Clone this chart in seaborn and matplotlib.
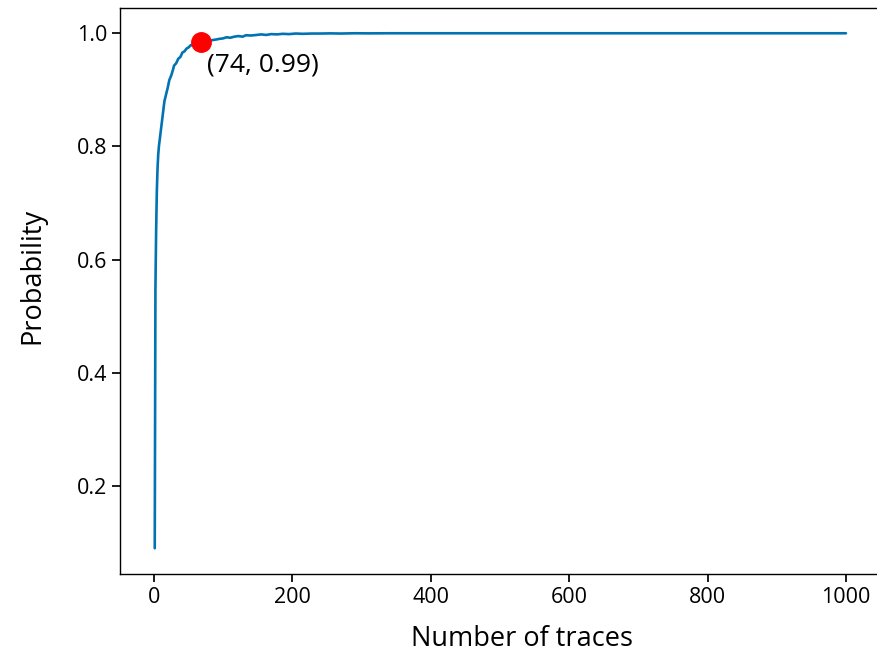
import matplotlib
matplotlib.use("Agg")
import matplotlib.pyplot as plt
import pandas as pd
import seaborn as sns

# traces vs probability
n_traces = [1, 2, 3, 4, 5, 6, 7, 8, 10, 12, 15, 18, 20, 22, 25, 27, 29, 32, 35, 38, 41,
            44, 47, 50, 53, 57, 60, 64, 68, 74, 80, 85, 90, 94, 100, 105, 110, 116,
            122, 128, 133, 140, 148, 155, 162, 169, 178, 186, 195, 205, 215, 228, 240,
            255, 270, 290, 310, 340, 380, 450, 550, 700, 850, 1000]
probability = [0.09, 0.55, 0.65, 0.72, 0.76, 0.785, 0.80, 0.81, 0.83, 0.85, 0.88, 0.895,
               0.905, 0.917, 0.926, 0.934, 0.943, 0.947, 0.955, 0.958, 0.966, 0.968,
               0.973, 0.975, 0.979, 0.978, 0.981, 0.982, 0.984, 0.986, 0.987, 0.988,
               0.989, 0.990, 0.991, 0.993, 0.992, 0.994, 0.995, 0.994, 0.9965, 0.996,
               0.997, 0.998, 0.997, 0.9985, 0.998, 0.999, 0.9985, 0.9995, 0.999, 0.9995,
               0.9995, 0.9998, 0.9995, 1.0, 0.9998, 1.0, 1.0, 1.0, 1.0, 1.0, 1.0, 1.0]
mark_x, mark_y = 68, 0.984
mark_label = "(74, 0.99)"

sns.set_theme(style="ticks")
plt.rcParams["font.family"] = ["Open Sans", "DejaVu Sans"]

df = pd.DataFrame({"traces": n_traces, "prob": probability})

fig = plt.figure(figsize=(8.77, 6.53), dpi=100)
ax = fig.add_axes([0.137, 0.121, 0.867, 0.8675])
sns.lineplot(data=df, x="traces", y="prob", ax=ax,
             color=sns.color_palette("colorblind")[0], linewidth=1.9)
ax.plot([mark_x], [mark_y], "o", color="red", markersize=14, zorder=5)
ax.annotate(mark_label, (mark_x, mark_y), xytext=(4, -7), textcoords="offset points",
            ha="left", va="top", fontsize=19, color="black")

ax.set_xlim(-49, 1050)
ax.set_ylim(0.0445, 1.0455)
ax.set_xticks([0, 200, 400, 600, 800, 1000])
ax.set_yticks([0.2, 0.4, 0.6, 0.8, 1.0])
ax.tick_params(labelsize=15.5, colors="black")
ax.set_xlabel("Number of traces", fontsize=19.5, color="black")
ax.set_ylabel("Probability", fontsize=19.5, color="black")
ax.xaxis.set_label_coords(0.528, -0.09)
ax.yaxis.set_label_coords(-0.097, 0.527)
for s in ax.spines.values():
    s.set_color("black")
    s.set_linewidth(1.0)

plt.savefig("out.png", dpi=100)
